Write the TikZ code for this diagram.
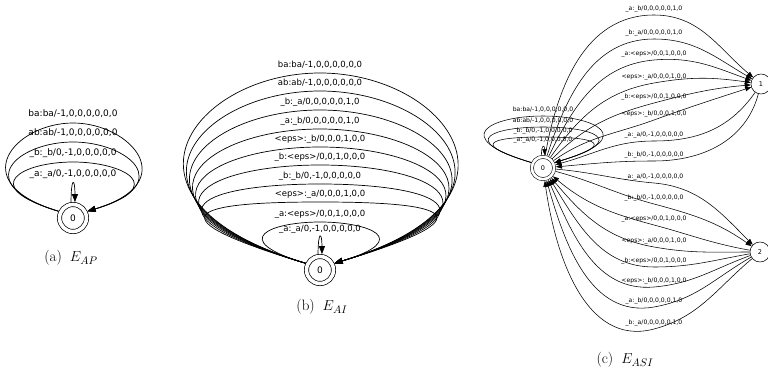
\documentclass[tikz,border=0pt]{standalone}
\usepackage{fontspec}
\usetikzlibrary{arrows.meta}
\newfontfamily\edgefont{DejaVu Sans}

% self loop: panel, node, height of top, spread, label
\newcommand{\selfloop}[5]{%
  \draw[arr#1] (#2.155) .. controls +(-#4,0.3*#4) and +(-0.6*#4,0) ..
    ([yshift=#3]#2.center) node[lab#1] {#5}
    .. controls +(0.6*#4,0) and +(#4,0.3*#4) .. (#2.25);}
% narrow loop straight above the node
\newcommand{\tinyloop}[4]{%
  \draw[arr#1] (#2.97) .. controls +(0,#3) and +(0,#3) .. (#2.83)
    node[lab#1, pos=.5] {#4};}

\begin{document}
\begin{tikzpicture}[x=1pt, y=1pt,
  state/.style={circle, draw, line width=0.7pt, double, double distance=3.6pt,
                minimum size=27pt, inner sep=0pt, outer sep=2.5pt,
                font=\edgefont\fontsize{9}{10}\selectfont},
  statec/.style={circle, draw, line width=0.55pt, double, double distance=2.6pt,
                 minimum size=22.3pt, inner sep=0pt, outer sep=1.85pt,
                 font=\edgefont\fontsize{6.5}{7}\selectfont},
  plainc/.style={circle, draw, line width=0.55pt, minimum size=20pt, inner sep=0pt,
                 font=\edgefont\fontsize{6.5}{7}\selectfont},
  arra/.style={line width=0.7pt, -{Triangle[length=8pt,width=6pt]}},
  arrb/.style={line width=0.7pt, -{Triangle[length=8pt,width=6pt]}},
  arrc/.style={line width=0.55pt, -{Triangle[length=6pt,width=4.5pt]}},
  laba/.style={font=\edgefont\fontsize{9}{10}\selectfont, inner sep=0pt, yshift=9pt},
  labb/.style={font=\edgefont\fontsize{8.5}{10}\selectfont, inner sep=0pt, yshift=8pt},
  labc/.style={font=\edgefont\fontsize{6.1}{7}\selectfont, inner sep=0pt, yshift=6.5pt},
  capt/.style={font=\fontsize{15}{17}\selectfont}
]
\useasboundingbox (0,0) rectangle (768,-371);

% (a)
\node[state] (a0) at (73,-218) {0};
\selfloop{a}{a0}{95}{96}{ba:ba/-1,0,0,0,0,0,0}
\selfloop{a}{a0}{76}{91}{ab:ab/-1,0,0,0,0,0,0}
\selfloop{a}{a0}{56}{83}{\_b:\_b/0,-1,0,0,0,0,0}
\tinyloop{a}{a0}{25}{\_a:\_a/0,-1,0,0,0,0,0}
\node[capt] (capa) at (71,-258) {(a)\hspace{8pt}$E_{AP}$};

% (b)
\node[state] (b0) at (320,-270) {0};
\selfloop{b}{b0}{197}{210}{ba:ba/-1,0,0,0,0,0,0}
\selfloop{b}{b0}{179}{205}{ab:ab/-1,0,0,0,0,0,0}
\selfloop{b}{b0}{160}{200}{\_b:\_a/0,0,0,0,0,1,0}
\selfloop{b}{b0}{141}{195}{\_a:\_b/0,0,0,0,0,1,0}
\selfloop{b}{b0}{123}{190}{<eps>:\_b/0,0,0,1,0,0}
\selfloop{b}{b0}{105}{185}{\_b:<eps>/0,0,1,0,0,0}
\selfloop{b}{b0}{86}{180}{\_b:\_b/0,-1,0,0,0,0,0}
\selfloop{b}{b0}{68}{175}{<eps>:\_a/0,0,0,1,0,0}
\selfloop{b}{b0}{48}{80}{\_a:<eps>/0,0,1,0,0,0}
\tinyloop{b}{b0}{23}{\_a:\_a/0,-1,0,0,0,0,0}
\node[capt] (capb) at (322,-307) {(b)\hspace{8pt}$E_{AI}$};

% (c)
\node[statec] (c0) at (543,-168) {0};
\node[plainc] (c1) at (761,-84) {1};
\node[plainc] (c2) at (760,-252) {2};
\selfloop{c}{c0}{52}{85}{ba:ba/-1,0,0,0,0,0,0}
\selfloop{c}{c0}{41}{78}{ab:ab/-1,0,0,0,0,0,0}
\selfloop{c}{c0}{31}{70}{\_b:\_b/0,-1,0,0,0,0,0}
\tinyloop{c}{c0}{11}{\_a:\_a/0,-1,0,0,0,0,0}
% 0 -> 1
\draw[arrc] (c0) to[out=80,in=180] (654,-15) node[labc] {\_a:\_b/0,0,0,0,0,1,0} to[out=0,in=140] (c1);
\draw[arrc] (c0) to[out=72,in=180] (654,-39) node[labc] {\_b:\_a/0,0,0,0,0,1,0} to[out=0,in=150] (c1);
\draw[arrc] (c0) to[out=64,in=185] (654,-60) node[labc] {\_a:<eps>/0,0,1,0,0,0} to[out=5,in=160] (c1);
\draw[arrc] (c0) to[out=55,in=190] (654,-83) node[labc] {<eps>:\_a/0,0,0,1,0,0} to[out=10,in=172] (c1);
\draw[arrc] (c0) to[out=45,in=195] (654,-103) node[labc] {\_b:<eps>/0,0,1,0,0,0} to[out=15,in=185] (c1);
\draw[arrc] (c0) to[out=35,in=200] (654,-120) node[labc] {<eps>:\_b/0,0,0,1,0,0} to[out=20,in=198] (c1);
% 1 -> 0
\draw[arrc] (c1) to[out=235,in=0] (654,-141) node[labc] {\_a:\_a/0,-1,0,0,0,0,0} to[out=180,in=15] (c0);
\draw[arrc] (c1) to[out=255,in=0] (654,-161) node[labc] {\_b:\_b/0,-1,0,0,0,0,0} to[out=180,in=5] (c0);
% 0 -> 2
\draw[arrc] (c0) to[out=-5,in=175] (654,-183) node[labc] {\_a:\_a/0,-1,0,0,0,0,0} to[out=-5,in=135] (c2);
\draw[arrc] (c0) to[out=-15,in=165] (654,-204) node[labc] {\_b:\_b/0,-1,0,0,0,0,0} to[out=-15,in=145] (c2);
% 2 -> 0
\draw[arrc] (c2) to[out=170,in=-15] (654,-225) node[labc] {\_a:<eps>/0,0,1,0,0,0} to[out=165,in=-40] (c0);
\draw[arrc] (c2) to[out=180,in=-10] (654,-247) node[labc] {<eps>:\_a/0,0,0,1,0,0} to[out=170,in=-50] (c0);
\draw[arrc] (c2) to[out=190,in=0] (654,-267) node[labc] {\_b:<eps>/0,0,1,0,0,0} to[out=180,in=-58] (c0);
\draw[arrc] (c2) to[out=200,in=5] (654,-287) node[labc] {<eps>:\_b/0,0,0,1,0,0} to[out=185,in=-66] (c0);
\draw[arrc] (c2) to[out=210,in=10] (654,-307) node[labc] {\_a:\_b/0,0,0,0,0,1,0} to[out=190,in=-74] (c0);
\draw[arrc] (c2) to[out=220,in=15] (654,-329) node[labc] {\_b:\_a/0,0,0,0,0,1,0} to[out=195,in=-82] (c0);
\node[capt] (capc) at (625,-360) {(c)\hspace{8pt}$E_{ASI}$};
\end{tikzpicture}
\end{document}
